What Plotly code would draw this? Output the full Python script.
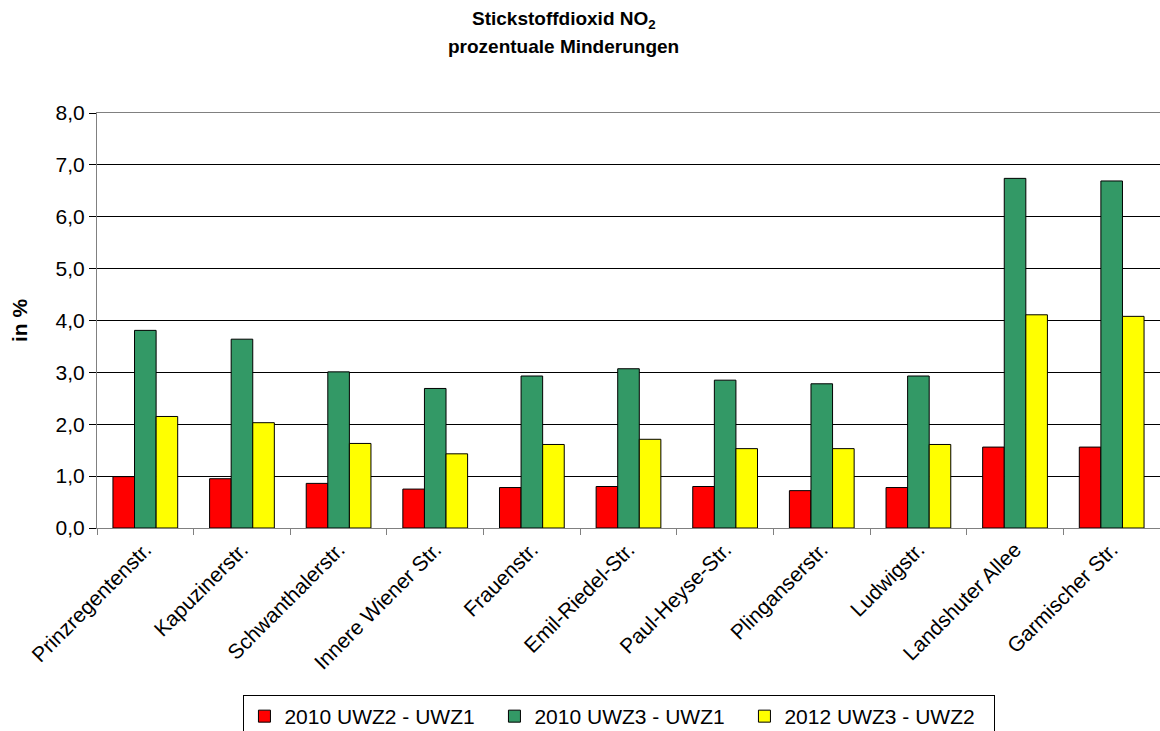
import plotly.graph_objects as go

# Measuring stations (x categories)
stations = [
    "Prinzregentenstr.", "Kapuzinerstr.", "Schwanthalerstr.", "Innere Wiener Str.",
    "Frauenstr.", "Emil-Riedel-Str.", "Paul-Heyse-Str.", "Plinganserstr.",
    "Ludwigstr.", "Landshuter Allee", "Garmischer Str.",
]

# Percentage reductions of NO2 per scenario
uwz2_uwz1_2010 = [0.99, 0.95, 0.86, 0.75, 0.78, 0.80, 0.80, 0.72, 0.78, 1.56, 1.56]
uwz3_uwz1_2010 = [3.81, 3.64, 3.01, 2.69, 2.93, 3.07, 2.85, 2.78, 2.93, 6.74, 6.69]
uwz3_uwz2_2012 = [2.15, 2.03, 1.63, 1.43, 1.61, 1.71, 1.53, 1.53, 1.61, 4.11, 4.08]

series_names = ["2010 UWZ2 - UWZ1", "2010 UWZ3 - UWZ1", "2012 UWZ3 - UWZ2"]
series_colors = ["#FF0000", "#339966", "#FFFF00"]
series_values = [uwz2_uwz1_2010, uwz3_uwz1_2010, uwz3_uwz2_2012]

title_lines = ["<b>Stickstoffdioxid NO<sub>2</sub></b>", "<b>prozentuale Minderungen</b>"]

FONT = "Liberation Sans, Arial, sans-serif"

fig = go.Figure()
for name, color, vals in zip(series_names, series_colors, series_values):
    fig.add_trace(go.Bar(
        x=stations, y=vals, name=name,
        marker=dict(color=color, line=dict(color="#000000", width=1)),
    ))

# two-line chart title placed above the plot area
for text, ypos in zip(title_lines, [1.224, 1.161]):
    fig.add_annotation(
        text=text, xref="paper", yref="paper", x=0.439, y=ypos,
        xanchor="center", yanchor="middle", showarrow=False,
        font=dict(family=FONT, size=19, color="#000000"),
    )

fig.update_layout(
    width=1160, height=731,
    margin=dict(l=97, r=0, t=113, b=203),
    paper_bgcolor="white", plot_bgcolor="white",
    separators=",.",
    barmode="group", bargap=0.33, bargroupgap=0,
    font=dict(family=FONT, color="#000000", size=20),
    showlegend=True,
    legend=dict(
        orientation="h",
        x=0.534, xanchor="center", xref="container",
        y=1 - 695 / 731, yanchor="top", yref="container",
        bordercolor="#000000", borderwidth=1,
        font=dict(family=FONT, size=21, color="#000000"),
        itemwidth=30, tracegroupgap=0,
        entrywidth=205, entrywidthmode="pixels",
    ),
)

fig.update_xaxes(
    range=[-0.5, 10.5],
    tickangle=-45,
    tickfont=dict(family=FONT, size=21),
    showline=True, linecolor="#808080", linewidth=1, mirror=True,
    ticks="outside", tickson="boundaries", ticklen=6, tickcolor="#808080",
    showgrid=False, automargin=False,
)
fig.update_yaxes(
    range=[0, 8], dtick=1, tickformat=".1f",
    tickfont=dict(family=FONT, size=21),
    showgrid=True, gridcolor="#000000", gridwidth=1,
    showline=True, linecolor="#808080", linewidth=1,
    ticks="outside", ticklen=7, tickcolor="#000000",
    zeroline=False, automargin=False,
    title=dict(text="<b>in %</b>", font=dict(family=FONT, size=21), standoff=22),
)

fig.write_html("out.html")
